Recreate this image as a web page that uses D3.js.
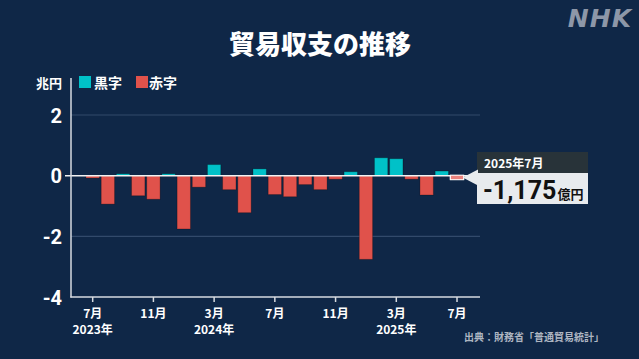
<!DOCTYPE html>
<html><head><meta charset="utf-8">
<script src="https://cdn.jsdelivr.net/npm/d3@7"></script>
<style>
html,body{margin:0;padding:0;background:#0f2747;}
svg{display:block;font-family:"Noto Sans CJK JP","Noto Sans",sans-serif;}
</style></head><body>
<svg id="c" width="639" height="359"></svg>
<script>
const months = ["2023-07","2023-08","2023-09","2023-10","2023-11","2023-12",
  "2024-01","2024-02","2024-03","2024-04","2024-05","2024-06",
  "2024-07","2024-08","2024-09","2024-10","2024-11","2024-12",
  "2025-01","2025-02","2025-03","2025-04","2025-05","2025-06","2025-07"];
const values = [-0.079,-0.937,0.062,-0.662,-0.777,0.062,
  -1.758,-0.379,0.366,-0.462,-1.221,0.224,
  -0.622,-0.695,-0.294,-0.461,-0.117,0.130,
  -2.759,0.590,0.559,-0.116,-0.638,0.153,-0.1175];
const yTicks = [2,0,-2,-4];
const xTickMonths = ["2023-07","2023-11","2024-03","2024-07","2024-11","2025-03","2025-07"];
const xTickLabels = ["7月","11月","3月","7月","11月","3月","7月"];
const xTickYears = ["2023年","","2024年","","","2025年",""];
const title = "貿易収支の推移";
const unit = "兆円";
const legendLabels = ["黒字","赤字"];
const source = "出典：財務省「普通貿易統計」";
const tipDate = "2025年7月";
const tipValue = "-1,175";
const tipUnit = "億円";

const C = {bg:"#0f2747", pos:"#00c1c8", neg:"#e0524b", grid:"#324a6b", axis:"#d7dbe0", text:"#ffffff"};
const svg = d3.select("#c");
svg.append("rect").attr("width",639).attr("height",359).attr("fill",C.bg);

const x = d3.scaleBand().domain(months).range([85.1,464.6]).paddingInner(0.12).paddingOuter(0.06);
const y = d3.scaleLinear().domain([-4,2]).range([297,115]);

// title
svg.append("text").attr("x",320).attr("y",54).attr("text-anchor","middle")
  .attr("fill","#fff").attr("font-size",26).attr("font-weight","900").text(title);
// NHK logo
svg.append("text").attr("x",632).attr("y",27).attr("text-anchor","end")
  .attr("fill","#8d97a8").attr("font-size",25).attr("font-weight","900")
  .attr("font-style","italic").attr("font-family","'DejaVu Sans',sans-serif").attr("letter-spacing",1).text("NHK");

// unit & legend
svg.append("text").attr("x",62).attr("y",88).attr("text-anchor","end").attr("fill","#fff")
  .attr("font-size",13).attr("font-weight","bold").text(unit);
const lg = svg.append("g");
[[79,C.pos,legendLabels[0],94],[136,C.neg,legendLabels[1],149]].forEach(([lx,col,t,tx])=>{
  lg.append("rect").attr("x",lx).attr("y",76).attr("width",12).attr("height",12).attr("fill",col);
  lg.append("text").attr("x",tx).attr("y",88).attr("fill","#fff").attr("font-size",14).attr("font-weight","bold").text(t);
});

// gridlines
svg.append("g").selectAll("line").data(yTicks.filter(d=>d!==0 && d!==-4)).join("line")
  .attr("x1",71).attr("x2",480).attr("y1",d=>y(d)).attr("y2",d=>y(d))
  .attr("stroke",C.grid).attr("stroke-width",1.2);

// y axis
const yAxis = d3.axisLeft(y).tickValues(yTicks).tickSize(0).tickPadding(9).tickFormat(d=>d);
const ya = svg.append("g").attr("transform","translate(71,0)").call(yAxis);
ya.select(".domain").remove();
ya.selectAll("text").attr("fill","#fff").attr("font-size",20).attr("font-weight","bold")
  .attr("font-family","Roboto,'Noto Sans',sans-serif").attr("dy","0.36em");

// bars
const n = months.length;
svg.append("g").selectAll("rect").data(months.map((m,i)=>({m,v:values[i],i}))).join("rect")
  .attr("x",d=>x(d.m)).attr("width",x.bandwidth())
  .attr("y",d=>y(Math.max(0,d.v))).attr("height",d=>Math.abs(y(d.v)-y(0)))
  .attr("fill",d=>d.i===n-1?"#e9817d":(d.v>=0?C.pos:C.neg))
  .attr("stroke",d=>d.i===n-1?"#ffffff":"rgba(0,0,0,0.25)")
  .attr("stroke-width",1);

// zero line
svg.append("line").attr("x1",65).attr("x2",480).attr("y1",y(0)).attr("y2",y(0))
  .attr("stroke","#f2f2f2").attr("stroke-width",1.5);
// redraw highlighted bar above zero line
const lastM = months[n-1];
svg.append("rect").attr("x",x(lastM)).attr("width",x.bandwidth())
  .attr("y",y(0)-0.5).attr("height",y(values[n-1])-y(0)+1)
  .attr("fill","#e9817d").attr("stroke","#ffffff").attr("stroke-width",1);
// left axis line
svg.append("line").attr("x1",71).attr("x2",71).attr("y1",78).attr("y2",297.5)
  .attr("stroke",C.axis).attr("stroke-width",1.5);
// bottom axis
svg.append("line").attr("x1",70.3).attr("x2",480).attr("y1",297).attr("y2",297)
  .attr("stroke",C.axis).attr("stroke-width",1.5);

// x ticks
const xa = svg.append("g");
xTickMonths.forEach((m,k)=>{
  const cx = x(m)+x.bandwidth()/2;
  xa.append("line").attr("x1",cx).attr("x2",cx).attr("y1",297).attr("y2",302).attr("stroke",C.axis).attr("stroke-width",1.5);
  xa.append("text").attr("x",cx).attr("y",318).attr("text-anchor","middle").attr("fill","#fff")
    .attr("font-size",12).attr("font-weight","bold").text(xTickLabels[k]);
  if(xTickYears[k]) xa.append("text").attr("x",cx).attr("y",334).attr("text-anchor","middle").attr("fill","#fff")
    .attr("font-size",12).attr("font-weight","bold").text(xTickYears[k]);
});

// source
svg.append("text").attr("x",604).attr("y",341).attr("text-anchor","end").attr("fill","#aeb6c2")
  .attr("font-size",10).attr("font-weight","bold").text(source);

// tooltip
const tx0 = 477, ty0 = 152;
const tip = svg.append("g");
tip.append("rect").attr("x",tx0).attr("y",ty0).attr("width",111).attr("height",21).attr("fill","#283339");
tip.append("rect").attr("x",tx0).attr("y",ty0+21).attr("width",111).attr("height",31).attr("fill","#e8ebee");
const tipY = y(values[n-1]/2);
tip.append("path").attr("d",`M${x(lastM)+x.bandwidth()-1},${tipY} L${tx0+1},${tipY-8} L${tx0+1},${tipY+8} Z`).attr("fill","#e8ebee");
tip.append("text").attr("x",tx0+7).attr("y",ty0+15.5).attr("fill","#fff").attr("font-size",12).attr("font-weight","bold").text(tipDate);
const tv = tip.append("text").attr("x",tx0+6).attr("y",ty0+47).attr("fill","#111");
tv.append("tspan").attr("font-size",25).attr("font-weight","bold").attr("font-family","Roboto,'Noto Sans',sans-serif").text(tipValue);
tv.append("tspan").attr("font-size",13).attr("font-weight","bold").attr("dx",1).text(tipUnit);
</script>
</body></html>
